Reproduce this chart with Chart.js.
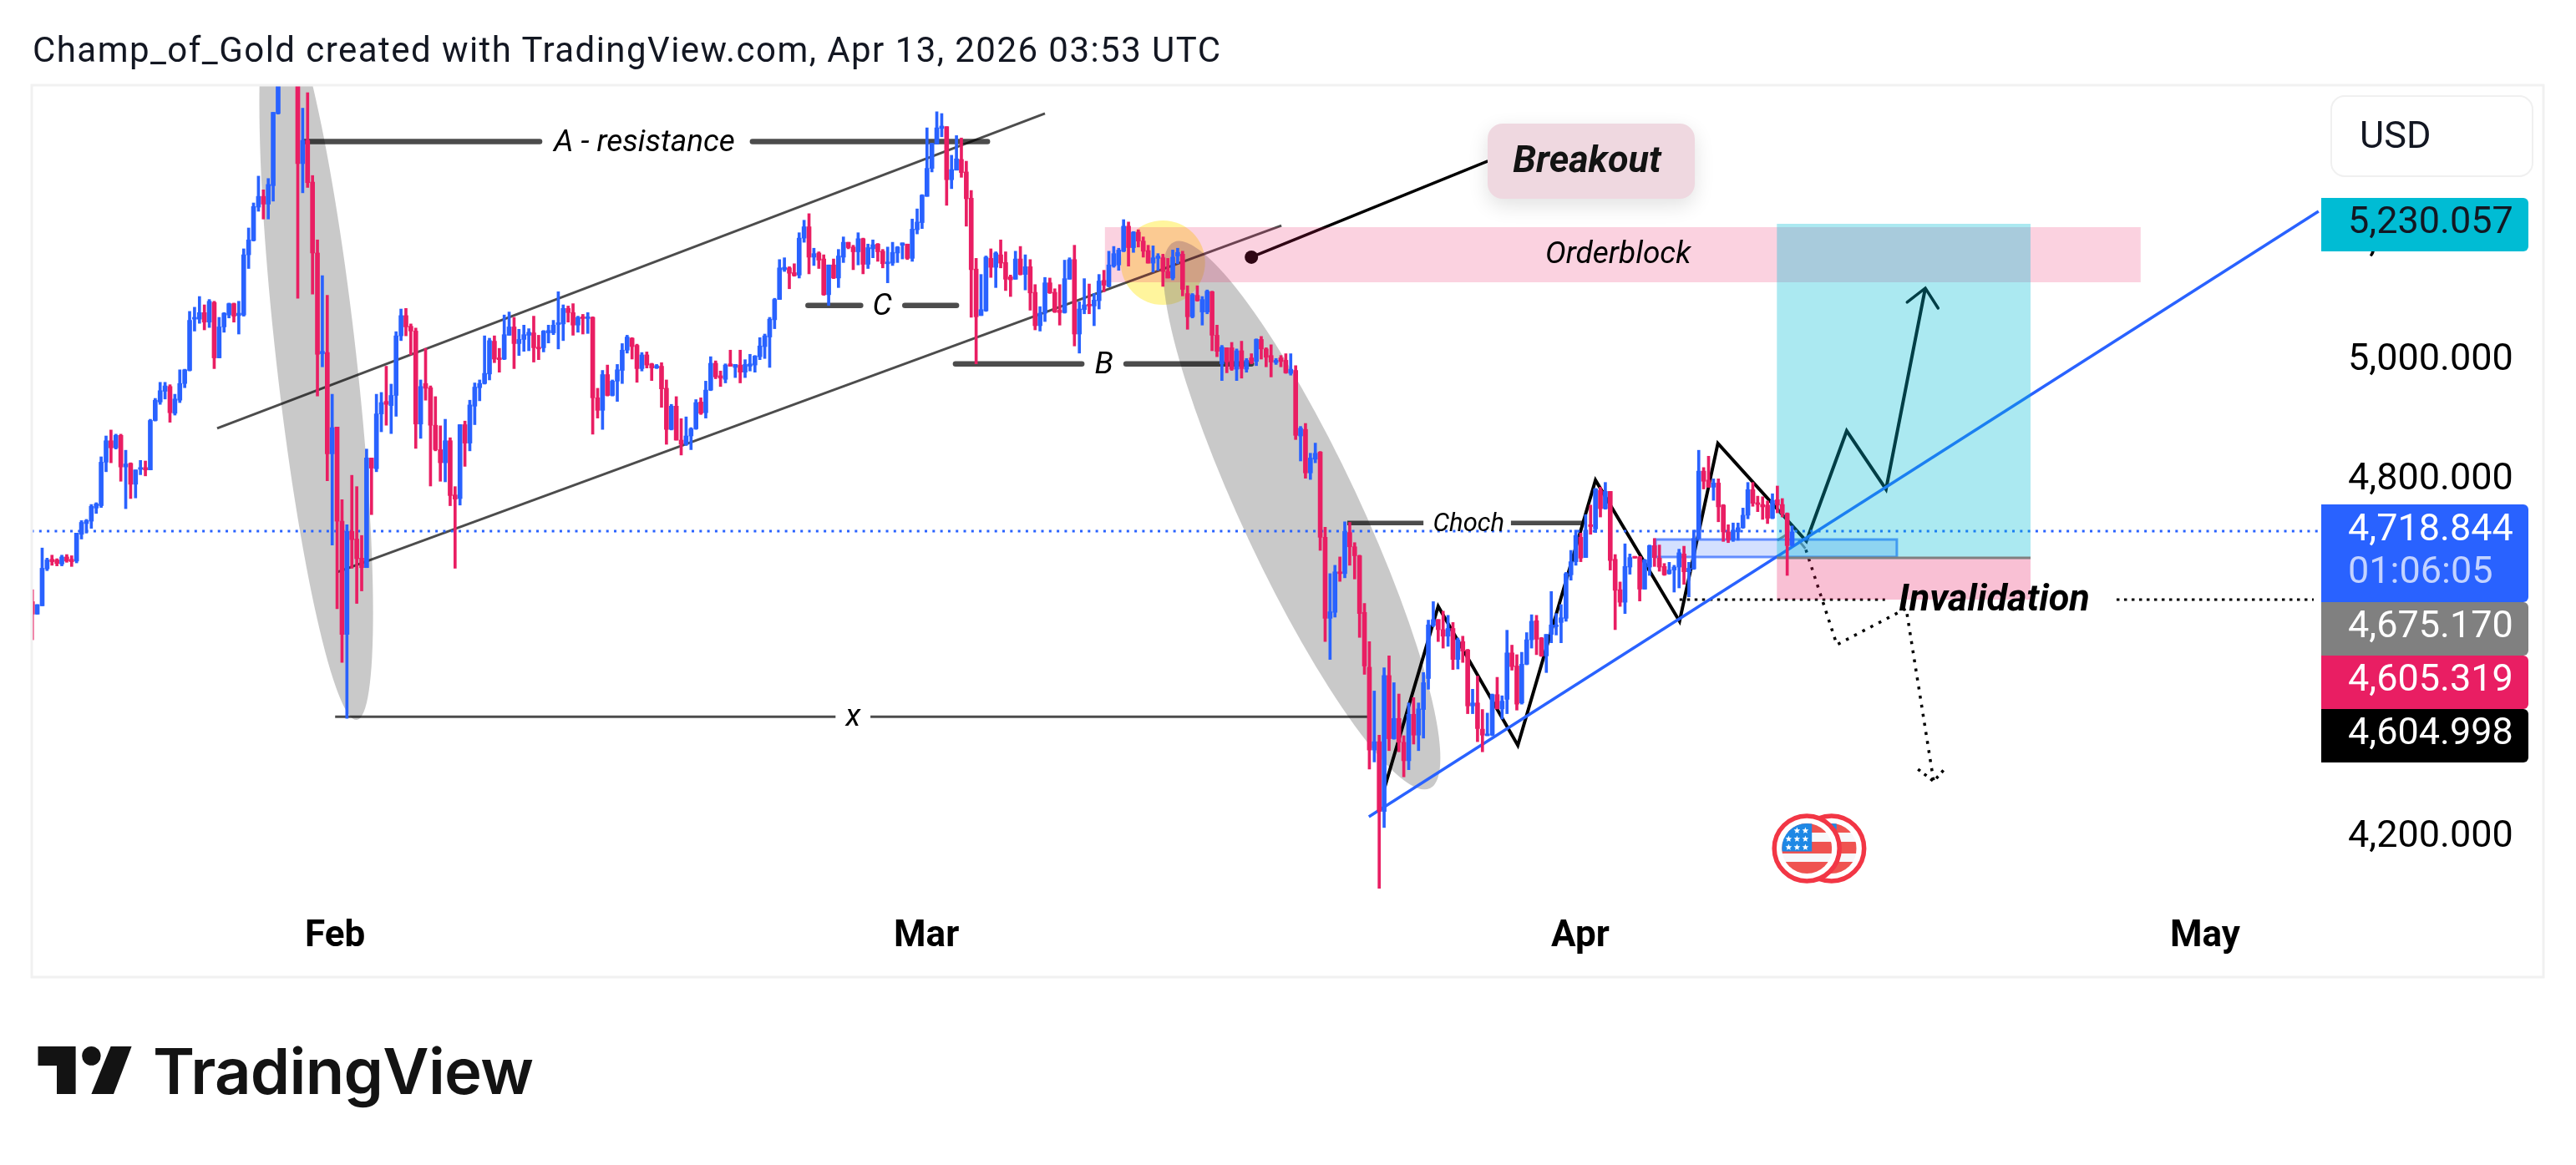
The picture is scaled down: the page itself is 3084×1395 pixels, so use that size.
<!DOCTYPE html>
<html>
<head>
<meta charset="utf-8">
<title>XAUUSD</title>
<script src="https://cdn.jsdelivr.net/npm/chart.js@4/dist/chart.umd.min.js"></script>
<style>
    html, body { margin: 0; padding: 0; background: #fff; overflow: hidden; }
    #wrap { position: relative; width: 3084px; height: 1395px; }
    canvas { position: absolute; left: 0; top: 0; }
    svg { position: absolute; left: 0; top: 0; pointer-events: none; }
</style>
</head>
<body>
<div id="wrap">
    <canvas id="chart" width="3084" height="1395"></canvas>
    <svg width="3084" height="1395" xmlns="http://www.w3.org/2000/svg">
        <text x="39" y="74" font-family="Roboto" font-size="42" fill="#131722" textLength="1422">Champ_of_Gold created with TradingView.com, Apr 13, 2026 03:53 UTC</text>
        <polygon points="45.5,1253 90.6,1253 90.6,1310 68,1310 68,1276 45.5,1276" fill="#131313"/>
        <ellipse cx="109.4" cy="1264.4" rx="11.2" ry="11.4" fill="#131313"/>
        <polygon points="132.6,1253 157.6,1253 136,1310 109.4,1310" fill="#131313"/>
        <text x="183" y="1310" font-family="Inter" font-weight="600" font-size="76" fill="#131313" textLength="456">TradingView</text>
    </svg>
</div>
<script>
// 4h candles
const opens = [
4596,4575,4589,4651,4667,4666,4659,4671,4667,4664,4709,4727,4731,4753,4757,4830,4866,4854,4875,4822,
4828,4793,4818,4821,4817,4900,4931,4949,4957,4912,4934,4962,4984,5070,5070,5081,5065,5098,5005,5057,
5077,5096,5076,5077,5178,5202,5258,5276,5263,5294,5415,5490,5540,5570,5520,5331,5370,5300,5181,5012,
5014,4844,4889,4731,4541,4714,4701,4669,4653,4837,4819,4911,4932,4925,4942,5042,5076,5058,5050,4894,
4962,4955,4892,4851,4829,4866,4775,4769,4893,4862,4924,4955,4962,4978,5033,5005,5003,5043,5057,5029,
5036,5043,5047,5023,5022,5047,5047,5061,5062,5088,5081,5060,5074,5071,5073,4938,4917,4977,4942,4966,
4984,5018,5038,5026,4987,5010,4995,4988,4991,4954,4885,4924,4867,4860,4874,4886,4931,4913,4951,4996,
4975,4969,4995,4989,4993,4981,4991,4993,5007,5024,5040,5069,5103,5153,5156,5148,5144,5206,5225,5174,
5181,5171,5111,5161,5139,5174,5199,5191,5183,5205,5162,5188,5196,5184,5163,5164,5181,5194,5196,5172,
5220,5232,5276,5323,5364,5390,5393,5304,5320,5338,5317,5273,5154,5076,5084,5172,5157,5178,5165,5141,
5137,5171,5145,5158,5115,5059,5080,5131,5115,5085,5081,5137,5170,5045,5086,5095,5092,5101,5135,5125,
5159,5161,5184,5226,5190,5216,5201,5185,5164,5172,5173,5150,5139,5176,5179,5113,5074,5110,5082,5082,
5116,5043,4995,5022,5022,4986,5017,4986,5005,4999,5036,5020,5009,4997,5005,5001,4979,4984,4874,4885,
4812,4835,4847,4704,4568,4578,4646,4643,4712,4688,4673,4578,4486,4347,4361,4244,4472,4366,4400,4360,
4329,4407,4372,4415,4467,4556,4566,4549,4538,4551,4499,4529,4515,4421,4426,4382,4371,4372,4440,4416,
4432,4510,4488,4426,4491,4532,4564,4535,4505,4541,4554,4561,4568,4641,4663,4704,4670,4725,4718,4783,
4752,4781,4667,4616,4595,4654,4672,4671,4617,4654,4690,4669,4655,4643,4649,4654,4676,4646,4651,4702,
4815,4800,4788,4795,4758,4713,4700,4713,4720,4741,4784,4762,4759,4758,4736,4767,4759,4744,4690
];
const highs = [
4616,4591,4686,4669,4674,4668,4674,4675,4673,4711,4732,4734,4759,4762,4839,4874,4884,4877,4877,4850,
4829,4817,4833,4832,4902,4937,4964,4964,4960,4944,4985,4986,5083,5090,5108,5094,5103,5100,5073,5081,
5097,5097,5100,5188,5223,5265,5310,5287,5306,5417,5500,5560,5600,5590,5540,5424,5450,5311,5203,5143,
5110,4944,4889,4767,4725,4808,4789,4707,4852,4837,4944,4947,4991,4961,5049,5087,5088,5062,5055,4968,
5021,4958,4940,4891,4902,4871,4789,4893,4899,4934,4963,4968,5042,5038,5042,5021,5077,5082,5073,5053,
5060,5054,5075,5043,5051,5060,5068,5116,5094,5092,5096,5075,5078,5081,5074,4954,4984,4993,4968,4994,
5029,5043,5039,5028,5014,5015,4996,4994,4997,4968,4927,4940,4903,4906,4888,4935,4938,4966,5007,5000,
4983,4995,5018,4994,5018,5002,5011,5009,5039,5045,5073,5105,5170,5173,5158,5163,5215,5236,5247,5189,
5183,5178,5161,5171,5187,5208,5199,5194,5215,5206,5196,5203,5197,5187,5191,5199,5192,5198,5196,5238,
5255,5279,5391,5365,5418,5415,5393,5345,5378,5374,5335,5286,5172,5145,5176,5188,5183,5203,5183,5144,
5184,5192,5178,5170,5128,5091,5140,5139,5121,5128,5169,5173,5194,5099,5138,5129,5113,5145,5152,5184,
5192,5189,5237,5233,5217,5220,5208,5194,5193,5180,5179,5172,5186,5189,5184,5126,5113,5126,5108,5119,
5117,5060,5026,5022,5031,5020,5033,5004,5012,5037,5041,5022,5027,5004,5009,5012,5012,4992,4890,4895,
4845,4862,4848,4721,4643,4657,4671,4730,4729,4695,4674,4593,4529,4446,4372,4485,4505,4460,4441,4371,
4426,4435,4426,4477,4565,4596,4566,4580,4573,4561,4535,4538,4516,4449,4471,4415,4409,4441,4469,4438,
4548,4523,4507,4511,4544,4574,4573,4536,4541,4613,4576,4591,4645,4682,4716,4711,4742,4758,4786,4788,
4796,4781,4675,4629,4693,4676,4672,4672,4667,4691,4702,4691,4660,4662,4657,4684,4689,4662,4716,4850,
4821,4840,4802,4802,4759,4725,4728,4728,4753,4796,4796,4773,4772,4765,4777,4790,4769,4745,4723
];
const lows = [
4532,4575,4589,4648,4657,4656,4656,4662,4655,4661,4701,4711,4719,4744,4754,4814,4829,4852,4798,4752,
4769,4770,4809,4807,4817,4899,4927,4936,4897,4909,4930,4955,4983,5050,5063,5052,5056,4987,5005,5048,
5072,5065,5045,5075,5155,5201,5251,5238,5238,5268,5414,5470,5500,5490,5105,5282,5291,5112,4941,4990,
4799,4691,4584,4494,4400,4652,4593,4614,4653,4742,4814,4881,4892,4878,4907,5034,5042,5010,4853,4870,
4934,4790,4849,4798,4797,4757,4652,4758,4823,4849,4893,4933,4961,4968,4997,4981,5002,5043,4987,5009,
5016,5017,4998,5002,5015,5030,5044,5020,5034,5065,5043,5048,5045,5046,4877,4904,4885,4941,4941,4932,
4962,5013,5003,4964,4983,4988,4967,4987,4922,4860,4884,4867,4842,4858,4851,4885,4910,4904,4950,4970,
4957,4963,4991,4972,4963,4972,4983,4981,5002,5004,4989,5054,5103,5150,5121,5142,5139,5199,5146,5160,
5155,5110,5093,5138,5123,5165,5188,5153,5161,5146,5155,5173,5167,5156,5131,5160,5165,5171,5170,5167,
5213,5222,5276,5317,5364,5376,5261,5289,5320,5308,5226,5073,4995,5076,5083,5140,5123,5156,5118,5108,
5137,5144,5119,5085,5052,5050,5066,5113,5081,5060,5080,5137,5025,5013,5079,5079,5059,5087,5116,5124,
5157,5152,5183,5159,5182,5191,5174,5164,5149,5152,5125,5139,5136,5163,5109,5053,5072,5100,5060,5079,
5017,5007,4967,4980,4984,4967,4971,4981,4995,4992,5003,4990,4973,4994,4990,4979,4976,4868,4832,4803,
4801,4829,4682,4529,4499,4570,4630,4636,4657,4634,4536,4474,4315,4327,4115,4217,4346,4365,4344,4302,
4314,4357,4346,4367,4449,4554,4529,4518,4521,4482,4483,4494,4408,4408,4361,4344,4371,4371,4416,4399,
4408,4481,4414,4424,4490,4518,4507,4504,4477,4527,4540,4527,4563,4632,4657,4663,4670,4709,4712,4738,
4751,4649,4549,4588,4576,4642,4669,4597,4617,4640,4655,4647,4640,4642,4612,4619,4625,4604,4650,4701,
4785,4788,4766,4730,4697,4695,4697,4699,4719,4735,4756,4747,4734,4727,4735,4745,4738,4640,4689
];
const closes = [
4575,4591,4652,4666,4663,4660,4671,4664,4663,4711,4729,4732,4756,4760,4830,4866,4854,4875,4822,4827,
4793,4817,4821,4817,4900,4934,4950,4958,4913,4936,4962,4985,5068,5073,5081,5065,5100,5005,5057,5080,
5096,5075,5080,5178,5203,5259,5276,5263,5296,5417,5490,5540,5570,5520,5331,5370,5299,5181,5011,5016,
4844,4888,4731,4541,4714,4700,4668,4653,4837,4820,4911,4930,4927,4942,5042,5076,5057,5050,4894,4957,
4954,4892,4851,4829,4866,4774,4768,4893,4862,4926,4956,4962,4979,5034,5003,5002,5044,5057,5029,5036,
5044,5048,5022,5020,5050,5051,5060,5064,5088,5081,5060,5073,5071,5074,4938,4917,4977,4942,4966,4985,
5018,5040,5024,4987,5010,4993,4988,4992,4953,4885,4924,4867,4860,4874,4886,4930,4912,4951,4996,4973,
4971,4993,4991,4994,4981,4994,4995,5008,5025,5042,5070,5103,5156,5157,5147,5143,5206,5225,5174,5180,
5169,5111,5161,5139,5176,5199,5190,5183,5205,5162,5190,5195,5183,5163,5166,5182,5191,5198,5172,5221,
5233,5278,5323,5365,5391,5394,5304,5321,5339,5316,5272,5153,5074,5086,5174,5157,5181,5164,5137,5136,
5171,5145,5158,5114,5059,5080,5131,5114,5082,5081,5138,5170,5045,5087,5094,5092,5102,5134,5127,5161,
5180,5186,5226,5190,5216,5201,5184,5164,5173,5176,5150,5139,5174,5182,5120,5074,5111,5101,5103,5117,
5043,5016,5023,4998,4986,5017,4987,5001,4997,5036,5020,5006,4998,5001,4999,4980,4986,4875,4887,4812,
4837,4845,4704,4568,4579,4646,4643,4714,4688,4673,4576,4488,4347,4361,4244,4472,4366,4400,4360,4329,
4407,4372,4416,4460,4557,4566,4549,4538,4551,4499,4532,4513,4421,4426,4383,4372,4374,4440,4416,4429,
4510,4487,4424,4491,4532,4563,4533,4505,4541,4557,4557,4569,4643,4663,4707,4669,4716,4722,4785,4752,
4781,4665,4615,4595,4655,4670,4669,4617,4666,4690,4670,4654,4641,4649,4654,4678,4646,4652,4702,4815,
4798,4788,4795,4755,4713,4700,4716,4720,4741,4784,4761,4759,4755,4736,4766,4758,4744,4690,4713
];

const monthNames = ['Feb', 'Mar', 'Apr', 'May'];
const monthBars = [61.6, 181.9, 314.9, 442];
const priceTicks = [5200, 5000, 4800, 4600, 4400, 4200];

// trade drawings: [bar index, price]
const channelTop = [[37.6, 4886.7], [206, 5415]];
const channelBottom = [[62.1, 4645.7], [254.1, 5227]];
const resistanceLeft = [[55.4, 5368], [103.2, 5368]];
const resistanceRight = [[146.5, 5368], [194.3, 5368]];
const levelCLeft = [[157.8, 5093], [168.5, 5093]];
const levelCRight = [[177.5, 5093], [188, 5093]];
const levelBLeft = [[187.8, 4995], [213.5, 4995]];
const levelBRight = [[222.5, 4995], [248, 4995]];
const levelXLeft = [[61.6, 4403], [163.4, 4403]];
const levelXRight = [[170.5, 4403], [271.6, 4403]];
const chochLeft = [[267.5, 4728], [283, 4728]];
const chochRight = [[300.8, 4728], [315.4, 4728]];
const trendLine = [[271.9, 4235.1], [465.1, 5251]];
const lastPriceLine = [[-0.2, 4714.3], [465.1, 4714.3]];
const stopLineLeft = [[335.1, 4599.4], [376.9, 4599.4]];
const stopLineRight = [[424, 4599.4], [464.1, 4599.4]];
const zigzag = [[275, 4281.3], [286, 4588.2], [302.2, 4354.9], [318, 4799.8], [335.1, 4563], [342.9, 4861.5], [360.9, 4697.5], [369.1, 4882.5], [377.1, 4784.4], [385.1, 5122.1]];
const zigzagHead = [[381.4, 5098.3], [385.1, 5122.1], [387.7, 5088.5]];
const downPath = [[360.8, 4683], [367.1, 4523.7], [381.2, 4584.6], [386.8, 4294.4]];
const downHead = [[383.6, 4314.9], [386.8, 4294.4], [389.2, 4316.9]];
const stubLeft = [[355, 4699], [357.2, 4710]];
const stubRight = [[359.3, 4699], [360.7, 4685]];
const breakoutLine = [[248, 5174], [296.1, 5335.1]];

const orderBlock = [218.2, 428.9, 5224.4, 5131.9];
const zoneBox = [330.2, 379.3, 4700.3, 4670.9];
const targetBox = [354.9, 406.5, 5230, 4669.5];
const stopBox = [354.9, 406.5, 4669.5, 4599.4];
const febEllipse = [[49.5, 5612.6], [66, 4397.6]];
const marEllipse = [[232.2, 5199.2], [284.3, 4282.7]];
const breakoutCircle = [230, 5164.8];
const usdEvent = [361, 4181.8];

const annotationTexts = [
    { text: 'A - resistance', at: [124.5, 5368], font: 'italic 37px Roboto' },
    { text: 'C', at: [172.9, 5093], font: 'italic 37px Roboto' },
    { text: 'B', at: [218, 4995], font: 'italic 37px Roboto' },
    { text: 'x', at: [167, 4403], font: 'italic 37px Roboto' },
    { text: 'Choch', at: [292.2, 4728], font: 'italic 31px Roboto' },
    { text: 'Orderblock', at: [322.6, 5179.6], font: 'italic 37px Roboto' },
    { text: 'Invalidation', at: [399.1, 4599.4], font: 'italic bold 45px Roboto' }
];

const BLUE = '#2962ff';
const RED = '#e91e63';
const DARK = 'rgba(0,0,0,0.7)';

function toXY(points) {
    return points.map(p => ({ x: p[0], y: p[1] }));
}

function lineSet(points, color, width, extra) {
    return Object.assign({
        type: 'line',
        data: toXY(points),
        borderColor: color,
        borderWidth: width,
        pointRadius: 0,
        tension: 0,
        fill: false,
        order: 5
    }, extra || {});
}

const barIndex = opens.map((_, i) => i);
const candleColors = opens.map((o, i) => closes[i] >= o ? BLUE : RED);

const datasets = [
    {
        type: 'bar',
        data: barIndex.map(i => ({ x: i, y: [lows[i], highs[i]] })),
        backgroundColor: candleColors,
        barThickness: 3,
        grouped: false,
        order: 0
    },
    {
        type: 'bar',
        data: barIndex.map(i => ({ x: i, y: [Math.min(opens[i], closes[i]), Math.max(opens[i], closes[i])] })),
        backgroundColor: candleColors,
        barThickness: 5,
        grouped: false,
        order: 0
    },
    lineSet(lastPriceLine, BLUE, 3, { borderDash: [3, 6.3] }),
    lineSet(channelTop, DARK, 3),
    lineSet(channelBottom, DARK, 3),
    lineSet(resistanceLeft, DARK, 6.5, { borderCapStyle: 'round' }),
    lineSet(resistanceRight, DARK, 6.5, { borderCapStyle: 'round' }),
    lineSet(levelCLeft, DARK, 6.5, { borderCapStyle: 'round' }),
    lineSet(levelCRight, DARK, 6.5, { borderCapStyle: 'round' }),
    lineSet(levelBLeft, DARK, 6.5, { borderCapStyle: 'round' }),
    lineSet(levelBRight, DARK, 6.5, { borderCapStyle: 'round' }),
    lineSet(levelXLeft, DARK, 3),
    lineSet(levelXRight, DARK, 3),
    lineSet(chochLeft, DARK, 5.5),
    lineSet(chochRight, DARK, 5.5),
    lineSet(trendLine, BLUE, 3.5),
    lineSet(stopLineLeft, '#000', 3, { borderDash: [3.5, 5.5] }),
    lineSet(stopLineRight, '#000', 3, { borderDash: [3.5, 5.5] }),
    lineSet(zigzag, '#000', 4, { borderJoinStyle: 'miter' }),
    lineSet(zigzagHead, '#000', 3.5, { borderCapStyle: 'round' }),
    lineSet(downPath, '#000', 3.5, { borderDash: [3.5, 7.5] }),
    lineSet(downHead, '#000', 3.5, { borderDash: [3.5, 6] }),
    lineSet(stubLeft, '#808080', 3),
    lineSet(stubRight, '#808080', 3),
    lineSet(breakoutLine, '#000', 3.5, { pointRadius: [8, 0], pointBackgroundColor: '#000', pointBorderWidth: 0 })
];

function px(chart, pt) {
    return [chart.scales.x.getPixelForValue(pt[0]), chart.scales.y.getPixelForValue(pt[1])];
}

function fillBox(chart, box, fill, stroke) {
    const ctx = chart.ctx;
    const a = px(chart, [box[0], box[2]]);
    const b = px(chart, [box[1], box[3]]);
    ctx.fillStyle = fill;
    ctx.fillRect(a[0], a[1], b[0] - a[0], b[1] - a[1]);
    if (stroke) {
        ctx.strokeStyle = stroke;
        ctx.lineWidth = 3;
        ctx.strokeRect(a[0], a[1], b[0] - a[0], b[1] - a[1]);
    }
}

function fillEllipse(chart, ends, semiMinor, fill) {
    const ctx = chart.ctx;
    const a = px(chart, ends[0]);
    const b = px(chart, ends[1]);
    const dx = b[0] - a[0], dy = b[1] - a[1];
    ctx.fillStyle = fill;
    ctx.beginPath();
    ctx.ellipse((a[0] + b[0]) / 2, (a[1] + b[1]) / 2, Math.hypot(dx, dy) / 2, semiMinor, Math.atan2(dy, dx), 0, Math.PI * 2);
    ctx.fill();
}

function drawStar(ctx, x, y, r) {
    ctx.beginPath();
    for (let k = 0; k < 10; k++) {
        const rad = k % 2 ? r * 0.45 : r;
        const ang = -Math.PI / 2 + k * Math.PI / 5;
        ctx.lineTo(x + rad * Math.cos(ang), y + rad * Math.sin(ang));
    }
    ctx.closePath();
    ctx.fill();
}

function drawFlagCoin(ctx, cx, cy) {
    ctx.save();
    ctx.beginPath();
    ctx.arc(cx, cy, 39, 0, Math.PI * 2);
    ctx.fillStyle = '#fff';
    ctx.fill();
    ctx.lineWidth = 5.5;
    ctx.strokeStyle = '#f23645';
    ctx.stroke();
    ctx.beginPath();
    ctx.arc(cx, cy, 30, 0, Math.PI * 2);
    ctx.clip();
    ctx.fillStyle = '#f7f8fa';
    ctx.fillRect(cx - 30, cy - 30, 60, 60);
    ctx.fillStyle = '#ef5350';
    ctx.fillRect(cx - 30, cy - 30, 60, 11);
    ctx.fillRect(cx - 30, cy - 8, 60, 14);
    ctx.fillRect(cx - 30, cy + 16, 60, 14);
    ctx.fillStyle = '#1e88e5';
    ctx.fillRect(cx - 30, cy - 30, 36, 33.5);
    ctx.fillStyle = '#fff';
    [[-11.8, -21.4], [-1.8, -21.4], [-21.8, -11.4], [-11.8, -11.4], [-1.8, -11.4], [-21.8, -1.4], [-11.8, -1.4], [-1.8, -1.4]].forEach(s => {
        drawStar(ctx, cx + s[0], cy + s[1], 4);
    });
    ctx.restore();
}

const drawingsPlugin = {
    id: 'drawings',
    beforeDatasetsDraw(chart) {
        const ctx = chart.ctx;
        const area = chart.chartArea;
        ctx.save();
        ctx.beginPath();
        ctx.rect(area.left, area.top, area.right - area.left, area.bottom - area.top);
        ctx.clip();
        const c = px(chart, breakoutCircle);
        ctx.fillStyle = 'rgba(255,235,59,0.5)';
        ctx.beginPath();
        ctx.arc(c[0], c[1], 50.5, 0, Math.PI * 2);
        ctx.fill();
        fillEllipse(chart, febEllipse, 48, 'rgba(120,120,120,0.4)');
        fillEllipse(chart, marEllipse, 70, 'rgba(120,120,120,0.4)');
        ctx.restore();
    },
    beforeDatasetDraw(chart, args) {
        // boxes sit over the drawn lines but under the candles
        if (args.index !== 1) return;
        fillBox(chart, orderBlock, 'rgba(233,30,99,0.2)');
        fillBox(chart, zoneBox, 'rgba(41,98,255,0.2)', 'rgba(41,98,255,0.7)');
        fillBox(chart, targetBox, 'rgba(0,188,212,0.33)');
        fillBox(chart, stopBox, 'rgba(233,30,99,0.28)');
        const ctx = chart.ctx;
        const a = px(chart, [stopBox[0], stopBox[2]]);
        const b = px(chart, [stopBox[1], stopBox[2]]);
        ctx.strokeStyle = '#808080';
        ctx.lineWidth = 3;
        ctx.beginPath();
        ctx.moveTo(a[0], a[1]);
        ctx.lineTo(b[0], b[1]);
        ctx.stroke();
    },
    afterDraw(chart) {
        const ctx = chart.ctx;
        ctx.save();

        // pane frame
        ctx.strokeStyle = '#f1f1f1';
        ctx.lineWidth = 3;
        ctx.strokeRect(38, 102, 3007, 1068);

        // breakout callout
        ctx.save();
        ctx.shadowColor = 'rgba(0,0,0,0.12)';
        ctx.shadowBlur = 24;
        ctx.shadowOffsetY = 8;
        ctx.fillStyle = '#efd8e0';
        ctx.beginPath();
        ctx.roundRect(1781, 148, 248, 90, 18);
        ctx.fill();
        ctx.restore();
        ctx.fillStyle = '#131313';
        ctx.textAlign = 'center';
        ctx.textBaseline = 'middle';
        ctx.font = 'italic bold 45px Roboto';
        ctx.fillText('Breakout', 1900, 195);

        annotationTexts.forEach(t => {
            const p = px(chart, t.at);
            ctx.font = t.font;
            ctx.fillStyle = '#000';
            ctx.fillText(t.text, p[0], p[1] + 2);
        });

        const ev = px(chart, usdEvent);
        drawFlagCoin(ctx, ev[0] + 29.5, ev[1]);
        drawFlagCoin(ctx, ev[0], ev[1]);

        // currency button
        ctx.fillStyle = '#fff';
        ctx.strokeStyle = '#f0f0f0';
        ctx.lineWidth = 2;
        ctx.beginPath();
        ctx.roundRect(2791, 115, 241, 96, 16);
        ctx.fill();
        ctx.stroke();
        ctx.textAlign = 'left';
        ctx.fillStyle = '#131722';
        ctx.font = '45px Roboto';
        ctx.fillText('USD', 2825, 166);

        // price tags on the axis
        const tags = [
            { top: 237, h: 64, color: '#00bcd4', ink: '#131722', text: '5,230.057', y: 268 },
            { top: 604, h: 117, color: BLUE, ink: '#fff', text: '4,718.844', y: 636 },
            { top: 721, h: 64, color: '#808080', ink: '#fff', text: '4,675.170', y: 752 },
            { top: 785, h: 64, color: RED, ink: '#fff', text: '4,605.319', y: 816 },
            { top: 849, h: 64, color: '#000', ink: '#fff', text: '4,604.998', y: 880 }
        ];
        tags.forEach(t => {
            ctx.fillStyle = t.color;
            ctx.beginPath();
            ctx.roundRect(2779, t.top, 248, t.h, [0, 6, 6, 0]);
            ctx.fill();
            ctx.fillStyle = t.ink;
            ctx.fillText(t.text, 2811, t.y);
        });
        ctx.fillStyle = '#c3d3ff';
        ctx.fillText('01:06:05', 2811, 687);
        ctx.restore();
    }
};

new Chart(document.getElementById('chart').getContext('2d'), {
    type: 'bar',
    data: { datasets: datasets },
    plugins: [drawingsPlugin],
    options: {
        responsive: false,
        animation: false,
        events: [],
        layout: {
            autoPadding: false,
            padding: { left: 38, top: 102, right: 39, bottom: 225 }
        },
        plugins: { legend: { display: false }, tooltip: { enabled: false } },
        scales: {
            x: {
                type: 'linear',
                min: -0.12,
                max: 465.3,
                offset: false,
                grid: { display: false },
                border: { display: false },
                afterFit(scale) { scale.height = 90; },
                afterBuildTicks(scale) { scale.ticks = monthBars.map(v => ({ value: v })); },
                ticks: {
                    autoSkip: false,
                    maxRotation: 0,
                    padding: 8,
                    color: '#000',
                    font: { family: 'Roboto', size: 44, weight: 'bold' },
                    callback: (v, i) => monthNames[i]
                }
            },
            y: {
                type: 'linear',
                position: 'right',
                min: 4092.1,
                max: 5462.6,
                grid: { display: false },
                border: { display: false },
                afterFit(scale) { scale.width = 268; },
                afterBuildTicks(scale) { scale.ticks = priceTicks.map(v => ({ value: v })); },
                ticks: {
                    autoSkip: false,
                    crossAlign: 'near',
                    padding: 26,
                    color: '#000',
                    font: { family: 'Roboto', size: 45 },
                    callback: v => v.toLocaleString('en-US', { minimumFractionDigits: 3 })
                }
            }
        }
    }
});
</script>
</body>
</html>
